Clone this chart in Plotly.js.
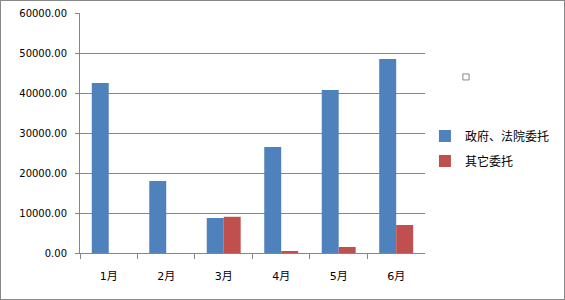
<!DOCTYPE html>
<html><head><meta charset="utf-8">
<script src="https://cdn.plot.ly/plotly-3.0.1.min.js"></script>
<style>html,body{margin:0;padding:0;background:#fff}#c{width:563px;height:298px;border:1px solid #888;}</style>
</head><body><div id="c"></div>
<script>
const months = ["1月","2月","3月","4月","5月","6月"];
const govCourt = [42500, 18000, 8750, 26500, 40750, 48500];
const other = [0, 0, 9050, 500, 1500, 7000];
const seriesNames = ["政府、法院委托", "其它委托"];

const traces = [
  {type:'bar', x:months, y:govCourt, name:seriesNames[0], marker:{color:'#4F81BD'}, legendgroup:'a'},
  {type:'bar', x:months, y:other, name:seriesNames[1], marker:{color:'#C0504D'}, legendgroup:'b'}
];
const layout = {
  width:563, height:298,
  margin:{l:79, r:139, t:12, b:46},
  paper_bgcolor:'#fff', plot_bgcolor:'#fff',
  barmode:'group', bargap:0.41, bargroupgap:0,
  font:{family:'DejaVu Sans, Noto Sans CJK SC', size:10, color:'#000'},
  xaxis:{showgrid:false, showline:true, linecolor:'#868686', linewidth:1,
    ticks:'outside', ticklen:5, tickcolor:'#868686', tickson:'boundaries',
    tickfont:{size:11, family:'DejaVu Sans, Noto Sans CJK SC'}, ticklabelstandoff:13},
  yaxis:{range:[0,60000], dtick:10000, tickformat:'.2f', showgrid:true, gridcolor:'#868686', gridwidth:1,
    showline:true, linecolor:'#868686', linewidth:1, ticks:'outside', ticklen:4, tickcolor:'#868686',
    zeroline:false, tickfont:{size:10}, ticklabelstandoff:6},
  showlegend:true,
  legend:{xref:'container', yref:'container', x:0.753, y:0.505, xanchor:'left', yanchor:'middle',
    font:{size:12, family:'Noto Sans CJK SC'},
    traceorder:'grouped', tracegroupgap:6, itemwidth:30, bgcolor:'rgba(0,0,0,0)'},
  shapes:[{type:'rect', xref:'paper', yref:'paper', x0:1.110, x1:1.128, y0:0.721, y1:0.746,
    line:{color:'#888', width:1}, fillcolor:'#fff'}]
};
Plotly.newPlot('c', traces, layout, {displayModeBar:false, staticPlot:true});
</script></body></html>
